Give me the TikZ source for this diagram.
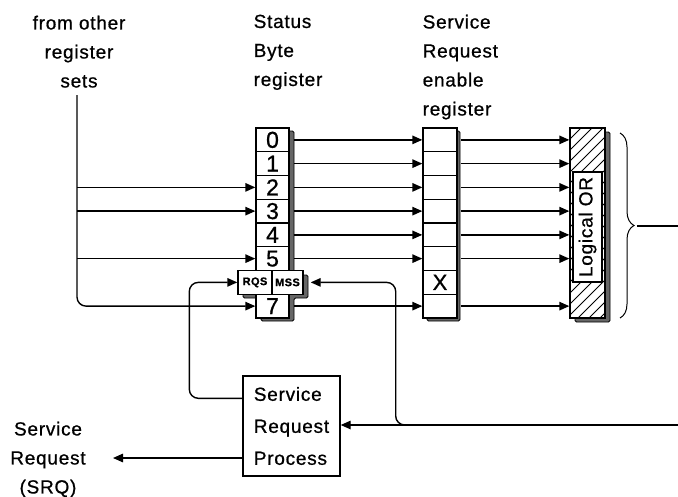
\documentclass[tikz,border=0pt]{standalone}
\usepackage{fontspec}
\setmainfont{Liberation Sans}[LetterSpace=4,FakeBold=0.8]
\usetikzlibrary{arrows.meta,decorations.pathreplacing,calc}
\begin{document}
\begin{tikzpicture}[x=1pt,y=-1pt,line width=1.4pt,
  arr/.style={-{Triangle[length=10pt,width=8.5pt]}},
  lab/.style={inner sep=0pt,font=\fontsize{19}{29}\selectfont},
  cell/.style={draw,fill=white,minimum width=33pt,minimum height=23.75pt,inner sep=0pt,font=\fontsize{23}{23}\selectfont},
  smallcell/.style={draw,fill=white,minimum height=23.75pt,inner sep=0pt,font=\fontsize{11}{11}\selectfont\bfseries},
  shade/.style={fill=black!60,draw=black,line width=0.9pt,rounded corners=1.5pt}]
\useasboundingbox (0,0) rectangle (678,496);

% labels
\node[lab,anchor=north,align=center] (t1) at (79,15) {from other\\register\\sets};
\node[lab,anchor=north west,align=left] (t2) at (253,14) {Status\\Byte\\register};
\node[lab,anchor=north west,align=left] (t3) at (422,14) {Service\\Request\\enable\\register};
\node[lab,anchor=north,align=center] (t4) at (48,421) {Service\\Request\\(SRQ)};

% status byte register
\draw[shade] (261,131) -- (294,131) -- (294,275) -- (308,275) -- (308,298) -- (294,298) -- (294,321) -- (261,321) -- (261,298) -- (243,298) -- (243,275) -- (261,275) -- cycle;
\foreach \i in {0,...,5} \node[cell] (s\i) at (272.5,{128+23.75*(\i+0.5)}) {\i};
\node[cell] (s7) at (272.5,{128+23.75*7.5}) {7};
\node[smallcell,minimum width=34pt] (rqs) at (255,{128+23.75*6.5}) {RQS};
\node[smallcell,minimum width=31pt] (mss) at (287.5,{128+23.75*6.5}) {MSS};

% enable register
\draw[shade] (427,131) rectangle (460,321);
\foreach \i in {0,...,7} \node[cell,minimum width=34pt] (e\i) at (440,{128+23.75*(\i+0.5)}) {};
\node[font=\fontsize{22}{22}\selectfont,inner sep=0pt] (ex) at (e6) {X};

% logical OR
\draw[shade] (575,132) rectangle (610,322);
\node[draw,fill=white,minimum width=35pt,minimum height=190pt,inner sep=0pt] (or) at (587.5,223) {};
\begin{scope}
  \clip (570,128) rectangle (605,318);
  \foreach \k in {0,...,21} \draw[line width=1pt] ({368+11*\k},330) -- ({368+11*\k+230},100);
\end{scope}
\node[draw,fill=white,rotate=90,minimum width=110pt,minimum height=29pt,inner sep=0pt,font=\fontsize{19}{19}\selectfont] (lbl) at (587.5,227) {Logical OR};

% service request process
\node[draw,fill=white,minimum width=97pt,minimum height=100pt,inner sep=0pt,align=left,font=\fontsize{19}{32}\selectfont] (srp) at (291.5,426) {Service\\Request\\Process};

% connectors status -> enable -> OR
\foreach \i in {0,1,2,3,4,5,7} {
  \draw[arr] ([xshift=4pt]s\i.east) -- (e\i.west);
  \draw[arr] ([xshift=3pt]e\i.east) -- (e\i.east -| or.west);
}

% inputs from other register sets
\coordinate (vtop) at (77,95);
\draw[arr,rounded corners=9pt] (vtop) |- (s7.west);
\foreach \i in {2,3,5} \draw[arr] (vtop |- s\i.west) -- (s\i.west);

% RQS feedback
\draw[arr,rounded corners=9pt] ([yshift=-23pt]srp.north west) -| ([xshift=-48pt]rqs.west) -- (rqs.west);

% SRQ output
\coordinate (srqtip) at (113,458);
\draw[arr] (srp.west |- srqtip) -- (srqtip);

% summary input from right
\coordinate (rin) at (678,425);
\coordinate (jn) at (420,425);
\draw[arr] (rin) -- (srp.east |- rin);
\draw[arr,rounded corners=9pt] (jn) -| ([xshift=92pt]mss.east) -- ([xshift=7pt]mss.east);

% brace
\draw[decorate,decoration={brace,amplitude=14pt},line width=1pt] (620,133) -- (620,318);
\coordinate (btip) at (637,226);
\coordinate (bout) at (678,226);
\draw (btip) -- (bout);
\end{tikzpicture}
\end{document}
